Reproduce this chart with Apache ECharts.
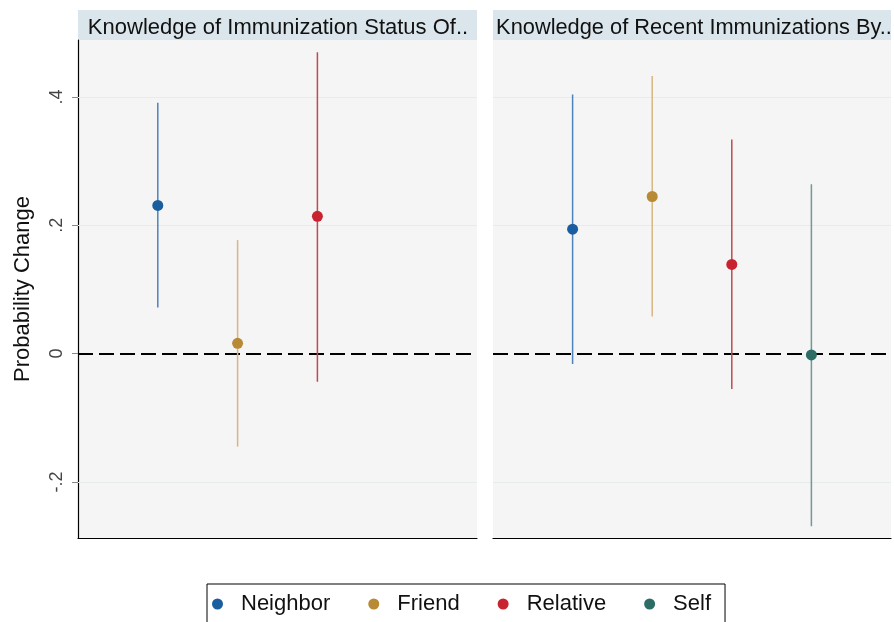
<!DOCTYPE html>
<html>
<head>
<meta charset="utf-8">
<script src="https://cdn.jsdelivr.net/npm/echarts@6/dist/echarts.min.js"></script>
<style>
  html, body { margin: 0; padding: 0; background: #fff; }
  #chart { width: 894px; height: 622px; }
</style>
</head>
<body>
<div id="chart"></div>
<script>
// groups and colours
const groups = ['Neighbor', 'Friend', 'Relative', 'Self'];
const dotColors = ['#1b5e9f', '#b98a35', '#c8242f', '#2c6e66'];
const barColors = ['#4f82b8', '#d9b680', '#c04a50', '#6f9a95'];
const xPos = [1, 2, 3, 4];

const panelTitles = ['Knowledge of Immunization Status Of..', 'Knowledge of Recent Immunizations By..'];

// left panel: estimate, lower, upper
const leftEst = [0.231, 0.016, 0.214];
const leftLo = [0.072, -0.145, -0.044];
const leftHi = [0.391, 0.177, 0.470];

// right panel
const rightEst = [0.194, 0.245, 0.139, -0.002];
const rightLo = [-0.016, 0.058, -0.055, -0.269];
const rightHi = [0.404, 0.433, 0.334, 0.264];

const yTicks = [-0.2, 0, 0.2, 0.4];
const gridVals = [-0.2, 0.2, 0.4];

const FONT = '"Liberation Sans", Arial, sans-serif';
const yMin = -0.2875, yMax = 0.489;

const fmt = v => {
  if (v === 0) return '0';
  const s = String(Math.abs(Math.round(v * 10) / 10)).replace(/^0/, '');
  return (v < 0 ? '-' : '') + s;
};

const renderBar = (params, api) => {
  const x = api.value(0);
  const pE = api.coord([x, api.value(1)]);
  const pLo = api.coord([x, api.value(2)]);
  const pHi = api.coord([x, api.value(3)]);
  const g = api.value(4);
  return {
    type: 'group',
    children: [
      { type: 'line', shape: { x1: pLo[0], y1: pLo[1], x2: pHi[0], y2: pHi[1] },
        style: { stroke: barColors[g], lineWidth: 1.5 } },
      { type: 'circle', shape: { cx: pE[0], cy: pE[1], r: 5.5 },
        style: { fill: dotColors[g] } },
    ],
  };
};

const series = [];
[0, 1].forEach(p => {
  series.push({
    type: 'line',
    xAxisIndex: p,
    yAxisIndex: p,
    data: [],
    z: 1,
    silent: true,
    markLine: {
      silent: true,
      symbol: 'none',
      label: { show: false },
      animation: false,
      data: gridVals.map(v => ({ yAxis: v, lineStyle: { color: '#e6ebeb', width: 1, type: 'solid' } }))
        .concat([{ yAxis: 0, lineStyle: { color: '#000', width: 2, type: [15, 6] } }]),
    },
  });
});

const est = [leftEst, rightEst];
const lo = [leftLo, rightLo];
const hi = [leftHi, rightHi];
[0, 1].forEach(p => {
  est[p].forEach((e, g) => {
    series.push({
      type: 'custom',
      name: groups[g],
      xAxisIndex: p,
      yAxisIndex: p,
      z: 5,
      itemStyle: { color: dotColors[g] },
      renderItem: renderBar,
      encode: { x: 0, y: [1, 2, 3] },
      data: [[xPos[g], e, lo[p][g], hi[p][g], g]],
    });
  });
});

const chart = echarts.init(document.getElementById('chart'));
chart.setOption({
  animation: false,
  textStyle: { fontFamily: FONT },
  title: [
    { text: panelTitles[0], left: 273, top: 12, textAlign: 'center',
      textStyle: { fontFamily: FONT, fontSize: 22, fontWeight: 'normal', color: '#111' } },
    { text: panelTitles[1], left: 689, top: 12, textAlign: 'center',
      textStyle: { fontFamily: FONT, fontSize: 21.8, fontWeight: 'normal', color: '#111' } },
  ],
  graphic: [
    { type: 'rect', left: 78, top: 10, z: -1, shape: { width: 399, height: 30 }, style: { fill: '#dae6ec' } },
    { type: 'rect', left: 493, top: 10, z: -1, shape: { width: 398, height: 30 }, style: { fill: '#dae6ec' } },
  ],
  legend: {
    data: groups,
    left: 207,
    top: 584,
    icon: 'circle',
    itemWidth: 11,
    itemHeight: 11,
    itemGap: 38,
    padding: [9, 14, 20, 5],
    borderColor: '#000',
    borderWidth: 1,
    textStyle: { fontFamily: FONT, fontSize: 22, color: '#111', padding: [0, 0, 0, 13] },
  },
  grid: [
    { left: 78, top: 40, width: 399, height: 498, show: true, backgroundColor: '#f5f5f5', borderWidth: 0 },
    { left: 493, top: 40, width: 398, height: 498, show: true, backgroundColor: '#f5f5f5', borderWidth: 0 },
  ],
  xAxis: [0, 1].map(p => ({
    type: 'value',
    gridIndex: p,
    min: 0,
    max: 5,
    axisLine: { show: true, onZero: false, lineStyle: { color: '#000', width: 1.2 } },
    axisTick: { show: false },
    axisLabel: { show: false },
    splitLine: { show: false },
  })),
  yAxis: [
    {
      type: 'value',
      gridIndex: 0,
      min: yMin,
      max: yMax,
      name: 'Probability Change',
      nameLocation: 'middle',
      nameRotate: 90,
      nameGap: 44,
      nameTextStyle: { fontFamily: FONT, fontSize: 22, color: '#111' },
      axisLine: { show: true, lineStyle: { color: '#000', width: 1.2 } },
      axisTick: { show: true, length: 6, customValues: yTicks, lineStyle: { color: '#888' } },
      axisLabel: { show: true, rotate: 90, margin: 12, customValues: yTicks, formatter: fmt,
        fontFamily: FONT, fontSize: 18, color: '#444' },
      splitLine: { show: false },
    },
    {
      type: 'value',
      gridIndex: 1,
      min: yMin,
      max: yMax,
      axisLine: { show: false },
      axisTick: { show: false },
      axisLabel: { show: false },
      splitLine: { show: false },
    },
  ],
  series: series,
});
</script>
</body>
</html>
